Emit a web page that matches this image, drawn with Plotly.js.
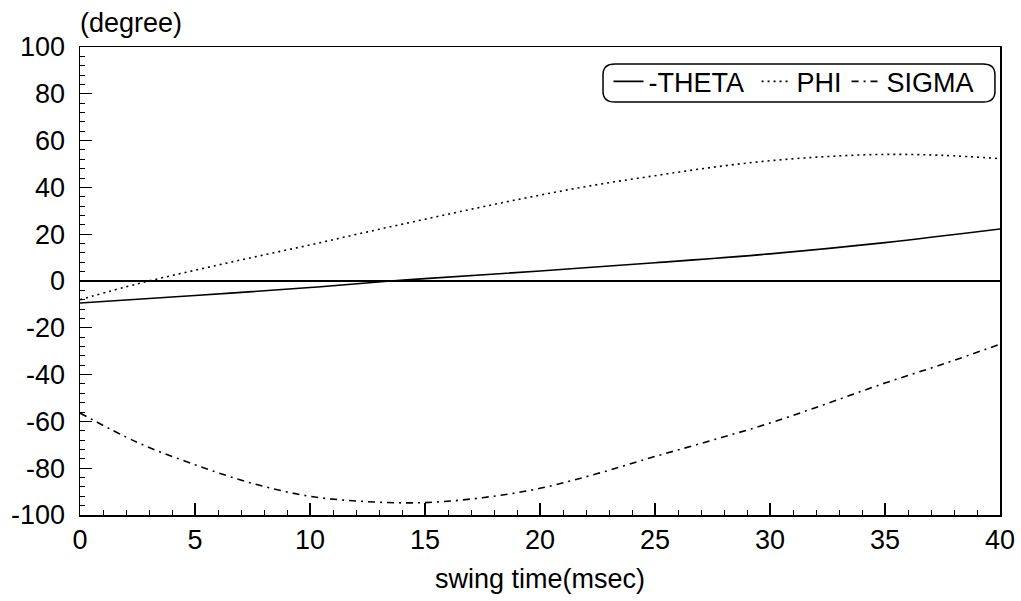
<!DOCTYPE html>
<html>
<head>
<meta charset="utf-8">
<script src="https://cdn.plot.ly/plotly-3.0.1.min.js"></script>
<style>html,body{margin:0;padding:0;background:#fff;}#chart{width:1021px;height:601px;}</style>
</head>
<body>
<div id="chart"></div>
<script>
// swing time (msec)
const thetaX = [0, 5, 10, 13.5, 15, 20, 25, 30, 35, 40];
const thetaY = [-9.4, -6.2, -2.8, 0, 1.0, 4.3, 7.8, 11.6, 16.4, 22.2];

const phiX = [0, 2.5, 5, 7.5, 10, 12.5, 15, 17.5, 20, 22.5, 25, 27.5, 30, 32.5, 35, 37.5, 40];
const phiY = [-8, -1.2, 4.6, 10.1, 15.4, 21, 26.4, 31.7, 36.7, 41.2, 45, 48.6, 51.4, 53.2, 54.1, 53.7, 52.3];

const sigmaX = [0, 2.5, 5, 7.5, 10, 12.5, 15, 17.5, 20, 22.5, 25, 27.5, 30, 32.5, 35, 37.5, 40];
const sigmaY = [-56.4, -69, -78.5, -86.5, -92, -94.3, -94.7, -92.6, -88.6, -82.3, -75, -68, -60.7, -52.3, -43.6, -35.6, -27];

const names = ['-THETA\u00a0', 'PHI', 'SIGMA'];
const yTickVals = [-100, -80, -60, -40, -20, 0, 20, 40, 60, 80, 100];
const yTickText = ['-100', '-80', '-60', '-40', '-20', '0', '20', '40', '60', '80', '100'];
const xTitle = 'swing time(msec)';
const yTitle = '(degree)';

const FONT = 'Liberation Sans, Arial, Helvetica, sans-serif';
const FS = 27;

const traces = [
  {x: thetaX, y: thetaY, name: names[0], mode: 'lines', line: {color: '#000', width: 1.6, dash: 'solid', shape: 'spline'}},
  {x: phiX, y: phiY, name: names[1], mode: 'lines', line: {color: '#000', width: 1.6, dash: '2px,4px', shape: 'spline'}},
  {x: sigmaX, y: sigmaY, name: names[2], mode: 'lines', line: {color: '#000', width: 1.6, dash: '7px,5px,2px,5px', shape: 'spline'}}
];

const layout = {
  width: 1021, height: 601,
  paper_bgcolor: '#fff', plot_bgcolor: '#fff',
  margin: {l: 80, r: 21, t: 47, b: 86},
  font: {family: FONT, size: FS, color: '#000'},
  showlegend: true,
  legend: {
    orientation: 'h', x: 0.5745, xanchor: 'left', y: 0.978, yanchor: 'top',
    bgcolor: 'rgba(0,0,0,0)', borderwidth: 0,
    font: {family: FONT, size: FS, color: '#000'},
    itemwidth: 30, tracegroupgap: 0
  },
  xaxis: {
    range: [0, 40], dtick: 5, tick0: 0,
    showgrid: false, zeroline: false,
    showline: true, linecolor: '#000', linewidth: 1.5, mirror: true,
    ticks: 'inside', ticklen: 12, tickwidth: 1.3, tickcolor: '#000',
    minor: {dtick: 1, ticks: 'inside', ticklen: 5, tickwidth: 1, tickcolor: '#000', showgrid: false},
    tickfont: {family: FONT, size: FS, color: '#000'},
    ticklabelstandoff: 0,
    title: {text: xTitle, font: {family: FONT, size: FS, color: '#000'}, standoff: 15}
  },
  yaxis: {
    range: [-100, 100], tickmode: 'array', tickvals: yTickVals, ticktext: yTickText,
    showgrid: false,
    zeroline: true, zerolinecolor: '#000', zerolinewidth: 1.5,
    showline: true, linecolor: '#000', linewidth: 1.5, mirror: true,
    ticks: 'inside', ticklen: 12, tickwidth: 1.3, tickcolor: '#000',
    minor: {dtick: 4, tick0: 0, ticks: 'inside', ticklen: 5, tickwidth: 1, tickcolor: '#000', showgrid: false},
    tickfont: {family: FONT, size: FS, color: '#000'},
    ticklabelstandoff: 8
  },
  annotations: [
    {text: yTitle, xref: 'paper', yref: 'paper', x: 0, y: 1, xanchor: 'left', yanchor: 'bottom',
     xshift: -2, yshift: 7, showarrow: false, font: {family: FONT, size: FS, color: '#000'}}
  ],
  shapes: [
    {type: 'path', xref: 'paper', yref: 'paper', layer: 'above',
     path: 'M 0.5815 0.8825 L 0.9815 0.8825 Q 0.9945 0.8825 0.9945 0.905 L 0.9945 0.941 Q 0.9945 0.9637 0.9815 0.9637 L 0.5815 0.9637 Q 0.5685 0.9637 0.5685 0.941 L 0.5685 0.905 Q 0.5685 0.8825 0.5815 0.8825 Z',
     line: {color: '#000', width: 1.5}, fillcolor: 'rgba(0,0,0,0)'}
  ]
};

Plotly.newPlot('chart', traces, layout, {displayModeBar: false, staticPlot: true});
</script>
</body>
</html>
